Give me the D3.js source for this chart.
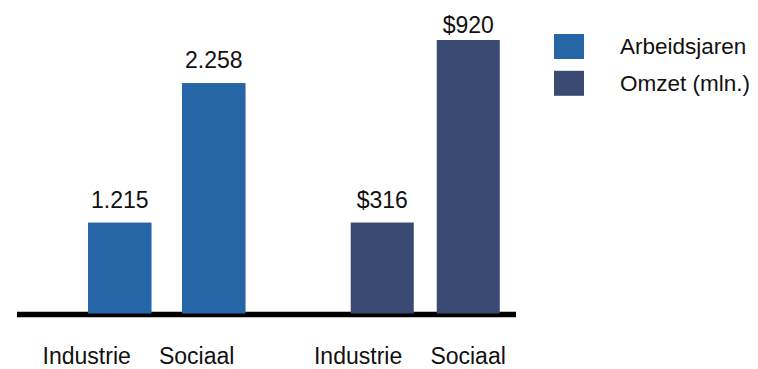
<!DOCTYPE html>
<html>
<head>
<meta charset="utf-8">
<script src="https://cdn.jsdelivr.net/npm/d3@7"></script>
<style>
  html, body { margin: 0; padding: 0; background: #fff; }
  svg { display: block; font-family: "Liberation Sans", Arial, Helvetica, sans-serif; }
</style>
</head>
<body>
<svg id="chart" width="758" height="369"></svg>
<script>
// Categories and series
const categories = ["Industrie", "Sociaal"];
const seriesNames = ["Arbeidsjaren", "Omzet (mln.)"];
const arbeidsjaren = [1215, 2258];
const omzet = [316, 920];
const seriesValues = [arbeidsjaren, omzet];

// Each series has its own value axis (truncated floor, ceiling)
const axisFloor = [535, 15];
const axisCeil = [2580, 920];

const colors = ["#2665A6", "#3A4A72"];

// Dutch number formats: "1.215" and "$316"
const nl = d3.formatLocale({ decimal: ",", thousands: ".", grouping: [3], currency: ["$", ""] });
const formats = [nl.format(",d"), nl.format("$,d")];

const svg = d3.select("#chart");
const baseY = 313.5, topY = 40;
const fontSize = 23;
const legendFontSize = 22.5;

// Bar positions: one band per series, two bars inside each
const x0 = d3.scaleBand().domain(seriesNames).range([37.5, 554.5]).padding(0);
const innerPad = [[0.324, 0.537], [0.267, 0.636]];
const x1 = seriesNames.map((s, i) =>
  d3.scaleBand().domain(categories).range([0, x0.bandwidth()])
    .paddingInner(innerPad[i][0]).paddingOuter(innerPad[i][1]));

// Category labels sit on their own grid beneath the baseline
const lx0 = d3.scaleBand().domain(seriesNames).range([6, 548.8]).padding(0);
const lx1 = d3.scalePoint().domain(categories).range([-55, 55]);

const yScales = seriesNames.map((s, i) =>
  d3.scaleLinear().domain([axisFloor[i], axisCeil[i]]).range([baseY, topY]));

// Baseline
svg.append("line")
  .attr("x1", 17).attr("x2", 516)
  .attr("y1", 314.5).attr("y2", 314.5)
  .attr("stroke", "#000").attr("stroke-width", 5.5);

const data = [];
seriesNames.forEach((s, si) => {
  categories.forEach((c, ci) => {
    data.push({ series: s, si, category: c, value: seriesValues[si][ci] });
  });
});

const barX = d => x0(d.series) + x1[d.si](d.category);

// Bars
svg.append("g").selectAll("rect").data(data).join("rect")
  .attr("x", barX)
  .attr("width", d => x1[d.si].bandwidth())
  .attr("y", d => yScales[d.si](d.value))
  .attr("height", d => baseY - yScales[d.si](d.value))
  .attr("fill", d => colors[d.si]);

// Value labels above bars
svg.append("g").selectAll("text").data(data).join("text")
  .attr("x", d => barX(d) + x1[d.si].bandwidth() / 2)
  .attr("y", d => Math.max(yScales[d.si](d.value) - 15, 32.5))
  .attr("text-anchor", "middle")
  .attr("font-size", fontSize)
  .attr("fill", "#111")
  .text(d => formats[d.si](d.value));

// Category labels
svg.append("g").selectAll("text").data(data).join("text")
  .attr("x", d => lx0(d.series) + lx0.bandwidth() / 2 + lx1(d.category))
  .attr("y", 364)
  .attr("text-anchor", "middle")
  .attr("font-size", fontSize)
  .attr("fill", "#111")
  .text(d => d.category);

// Legend
const legend = svg.append("g").selectAll("g").data(seriesNames).join("g")
  .attr("transform", (d, i) => `translate(554, ${34 + i * 36.8})`);
legend.append("rect")
  .attr("width", 30).attr("height", 25)
  .attr("fill", (d, i) => colors[i]);
legend.append("text")
  .attr("x", 66).attr("y", 12.5)
  .attr("dy", "0.35em")
  .attr("font-size", legendFontSize)
  .attr("fill", "#111")
  .text(d => d);
</script>
</body>
</html>
